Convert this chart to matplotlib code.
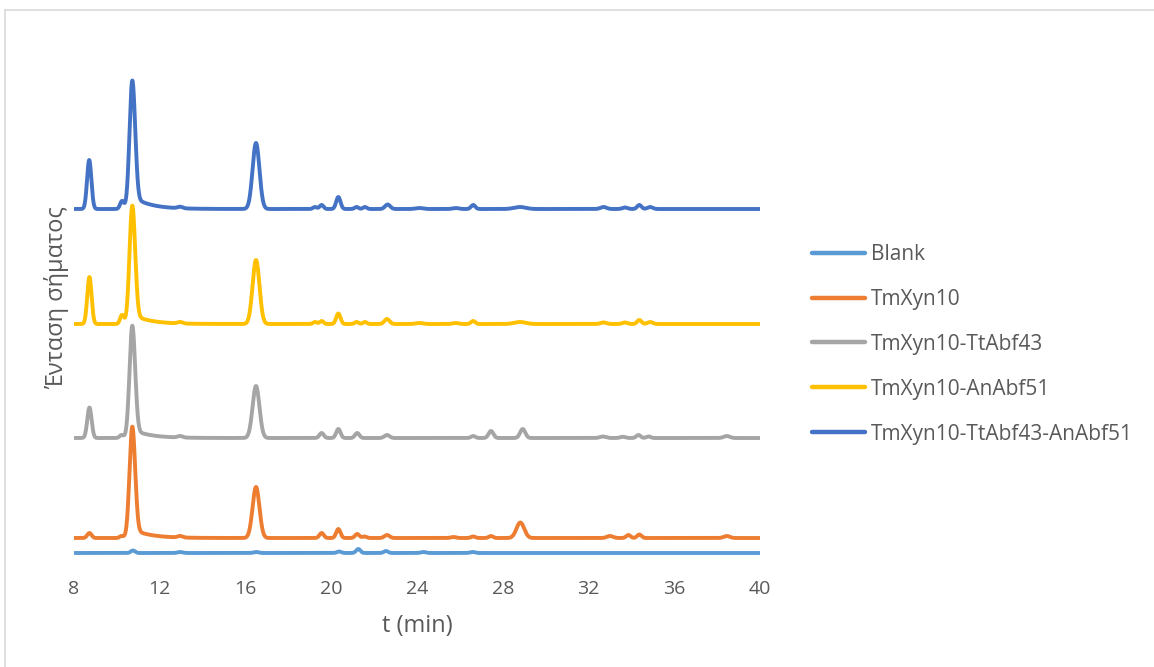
import numpy as np
import matplotlib
matplotlib.use("Agg")
import matplotlib.pyplot as plt
from matplotlib.lines import Line2D

plt.rcParams['font.family'] = ['Open Sans', 'DejaVu Sans']

# ---- data ----
series_names = ["Blank", "TmXyn10", "TmXyn10-TtAbf43", "TmXyn10-AnAbf51",
                "TmXyn10-TtAbf43-AnAbf51"]
series_colors = ["#5B9BD5", "#ED7D31", "#A5A5A5", "#FFC000", "#4472C4"]
baseline_offsets = [12, 27, 127, 241, 356]

# peak retention times (min), heights (a.u.), widths (sigma, min)
blank_t = [10.75, 12.95, 16.5, 20.37, 21.26, 22.55, 24.3, 26.6]
blank_h = [2.5, 1.0, 1.0, 1.5, 4.0, 2.0, 1.0, 1.0]
blank_w = [0.1, 0.12, 0.12, 0.1, 0.1, 0.1, 0.12, 0.12]

xyn_t = [8.72, 10.22, 10.72, 12.95, 16.49, 19.55, 20.33, 21.21, 21.55, 22.6,
         25.7, 26.62, 27.45, 28.82, 33.0, 33.86, 34.37, 38.45]
xyn_h = [5, 2, 111, 1.5, 51, 5, 9, 4, 1.5, 3,
         1.0, 1.5, 2, 15.5, 2, 3, 3.5, 2]
xyn_w = [0.1, 0.09, 0.13, 0.12, 0.16, 0.1, 0.1, 0.1, 0.1, 0.12,
         0.12, 0.1, 0.1, 0.18, 0.14, 0.1, 0.1, 0.14]

tt_t = [8.72, 10.22, 10.72, 12.95, 16.49, 19.55, 20.33, 21.21, 22.6, 26.62,
        27.45, 28.93, 32.67, 33.6, 34.33, 34.8, 38.45]
tt_h = [30.5, 3, 112, 1.5, 52, 5, 9, 5, 3, 2,
        7, 9, 1.5, 1.2, 3, 1.5, 2]
tt_w = [0.1, 0.09, 0.13, 0.12, 0.16, 0.1, 0.1, 0.1, 0.12, 0.1,
        0.11, 0.12, 0.14, 0.12, 0.1, 0.1, 0.14]

an_t = [8.72, 10.24, 10.72, 12.95, 16.49, 19.24, 19.55, 20.33, 21.18, 21.57,
        22.6, 24.1, 25.8, 26.62, 28.8, 32.7, 33.7, 34.37, 34.87]
an_h = [47, 9, 118, 1.5, 64, 2, 3, 10.5, 2, 2,
        5, 1.0, 1.0, 3, 2, 1.5, 1.5, 4, 2]
an_w = [0.1, 0.09, 0.13, 0.12, 0.16, 0.09, 0.09, 0.1, 0.09, 0.09,
        0.12, 0.17, 0.14, 0.1, 0.27, 0.14, 0.12, 0.1, 0.12]

mix_t = [8.71, 10.24, 10.72, 12.95, 16.49, 19.24, 19.55, 20.33, 21.18, 21.57,
         22.63, 24.1, 25.8, 26.62, 28.8, 32.7, 33.7, 34.37, 34.87]
mix_h = [49, 8, 128, 1.5, 66, 2, 4, 12, 2, 2,
         4.5, 1.0, 1.0, 4, 2, 2, 1.5, 4, 2]
mix_w = [0.1, 0.09, 0.13, 0.12, 0.16, 0.09, 0.09, 0.1, 0.09, 0.09,
         0.12, 0.17, 0.14, 0.1, 0.27, 0.14, 0.12, 0.1, 0.12]

# tailing after the main 10.7 min peak: level at onset (a.u.), decay (min)
tail_h = [0, 7.7, 7.3, 8.3, 11]
tail_tau = [0.8, 0.8, 0.8, 0.8, 0.8]

x_ticks = [8, 12, 16, 20, 24, 28, 32, 36, 40]

peak_tables = [(blank_t, blank_h, blank_w), (xyn_t, xyn_h, xyn_w),
               (tt_t, tt_h, tt_w), (an_t, an_h, an_w), (mix_t, mix_h, mix_w)]

# ---- figure ----
W, H = 1154, 667
fig = plt.figure(figsize=(W / 100, H / 100), dpi=100)
ax = fig.add_axes([74 / W, (H - 565) / H, (760 - 74) / W, 500 / H])

t = np.linspace(8, 40, 3201)


def trace(times, heights, widths, th, tau, main_t=10.72):
    y = np.zeros_like(t)
    for c, h, s in zip(times, heights, widths):
        y += h * np.exp(-0.5 * ((t - c) / s) ** 2)
    onset = 1.0 / (1.0 + np.exp(-(t - (main_t + 0.12)) / 0.04))
    y += th * np.exp(-np.clip(t - (main_t + 0.12), 0, None) / tau) * onset
    return y


handles = []
for name, col, off, (pt, ph, pw), th, tau in zip(series_names, series_colors,
                                                  baseline_offsets, peak_tables,
                                                  tail_h, tail_tau):
    y = off + trace(pt, ph, pw, th, tau)
    ln, = ax.plot(t, y, color=col, lw=2.8, solid_joinstyle='round',
                  solid_capstyle='round', label=name)
    handles.append(ln)

ax.set_xlim(8, 40)
ax.set_ylim(0, 500)
ax.set_xticks(x_ticks)
ax.set_xticklabels([str(v) for v in x_ticks])
ax.set_yticks([])
for s in ax.spines.values():
    s.set_visible(False)
ax.tick_params(axis='x', length=0, pad=11, labelsize=14, labelcolor='#595959')

fig.text(417 / W, 1 - 626 / H, "t (min)", ha='center', va='center',
         fontsize=17, color='#595959')
fig.text(57 / W, 1 - 298 / H, "Ένταση σήματος", ha='center', va='center',
         rotation=90, fontsize=17, color='#595959')

leg = fig.legend(handles=handles, labels=series_names, loc='upper left',
                 bbox_to_anchor=(804 / W, 1 - 235.5 / H), frameon=False,
                 fontsize=15, handlelength=2.55, handletextpad=0.25,
                 labelspacing=1.15, borderaxespad=0)
for txt in leg.get_texts():
    txt.set_color('#595959')
for lh in leg.get_lines():
    lh.set_linewidth(3.2)

# outer frame lines (top and left) of the chart area
fig.add_artist(Line2D([5 / W, 1.0], [1 - 10 / H, 1 - 10 / H], color='#d9d9d9',
                      lw=1.2, transform=fig.transFigure))
fig.add_artist(Line2D([5 / W, 5 / W], [0, 1 - 10 / H], color='#d9d9d9',
                      lw=1.2, transform=fig.transFigure))

fig.savefig("out.png", dpi=100, facecolor='white')
